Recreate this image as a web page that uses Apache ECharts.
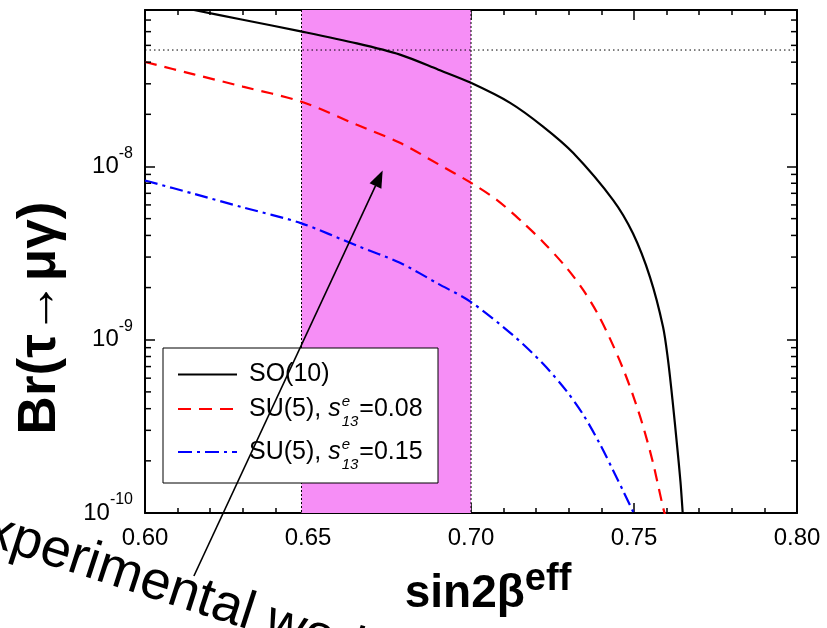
<!DOCTYPE html>
<html><head><meta charset="utf-8">
<script src="https://cdn.jsdelivr.net/npm/echarts@6/dist/echarts.min.js"></script>
<style>html,body{margin:0;padding:0;background:#fff}#c{width:827px;height:628px}</style>
</head><body><div id="c"></div>
<script>
const FONT = '"Liberation Sans", Arial, Helvetica, sans-serif';

// ---- data ----
const xRange = [0.60, 0.80];
const yRange = [1e-10, 8e-8];
const xTickInterval = 0.05;
const seriesNames = ['SO(10)', 'SU(5), s13=0.08', 'SU(5), s13=0.15'];

const so10X = [0.600, 0.615, 0.630, 0.6478, 0.665, 0.6782, 0.690, 0.6998, 0.712, 0.7221, 0.7313, 0.7436, 0.7497, 0.7549, 0.7589, 0.76043, 0.76181, 0.76319, 0.76426, 0.76494, 0.76518];
const so10Y = [9.1e-8, 8.0e-8, 7.03e-8, 6.02e-8, 5.13e-8, 4.42e-8, 3.62e-8, 3.05e-8, 2.33e-8, 1.70e-8, 1.20e-8, 6.4e-9, 4.1e-9, 2.3e-9, 1.19e-9, 7.65e-10, 4.49e-10, 2.47e-10, 1.51e-10, 1.0e-10, 8.5e-11];

const su5aX = [0.600, 0.615, 0.630, 0.6478, 0.665, 0.6782, 0.690, 0.6998, 0.7079, 0.7160, 0.7221, 0.7294, 0.7344, 0.7387, 0.7426, 0.7466, 0.7497, 0.7528, 0.7558, 0.7589, 0.7600];
const su5aY = [4.01e-8, 3.40e-8, 2.89e-8, 2.37e-8, 1.74e-8, 1.37e-8, 1.03e-8, 8.09e-9, 6.42e-9, 4.73e-9, 3.67e-9, 2.59e-9, 1.94e-9, 1.43e-9, 1.018e-9, 6.84e-10, 4.78e-10, 3.16e-10, 1.96e-10, 1.08e-10, 9.1e-11];

const su5bX = [0.600, 0.615, 0.630, 0.6478, 0.665, 0.6782, 0.690, 0.6998, 0.7129, 0.7221, 0.7294, 0.7344, 0.7396, 0.7436, 0.7466, 0.7497, 0.7505];
const su5bY = [8.30e-9, 6.95e-9, 5.81e-9, 4.71e-9, 3.49e-9, 2.78e-9, 2.10e-9, 1.66e-9, 1.061e-9, 7.26e-10, 5.03e-10, 3.70e-10, 2.49e-10, 1.76e-10, 1.35e-10, 1.02e-10, 9.5e-11];

const bandX = [0.648, 0.700];       // experimental sin2beta band
const expBound = 4.7e-8;            // experimental upper bound (dotted line)
const arrowTip = [0.6729, 9.48e-9];
const arrowTail = [0.6150, 4.33e-11];
const minorY = [2e-10,3e-10,4e-10,5e-10,6e-10,7e-10,8e-10,9e-10,
                2e-9,3e-9,4e-9,5e-9,6e-9,7e-9,8e-9,9e-9,
                2e-8,3e-8,4e-8,5e-8,6e-8,7e-8];

function pairs(xs, ys){ return xs.map((x,i)=>[x, ys[i]]); }

const chart = echarts.init(document.getElementById('c'), null, {renderer:'canvas'});

const axisLineStyle = {color:'#000', width:2};
function xAxisCfg(pos, showLabel){
  return {
    type:'value', position:pos, min:xRange[0], max:xRange[1], interval:xTickInterval, gridIndex:0,
    axisLine:{show:true, onZero:false, lineStyle:axisLineStyle},
    axisTick:{show:true, inside:true, length:10, lineStyle:{color:'#000', width:1.5}},
    minorTick:{show:true, splitNumber:5, length:5, lineStyle:{color:'#000', width:1.5}},
    splitLine:{show:false}, minorSplitLine:{show:false},
    axisLabel:{show:showLabel, margin:13, color:'#000', fontSize:24, fontFamily:FONT,
      formatter: v => v.toFixed(2)}
  };
}
function yAxisCfg(pos, showLabel){
  return {
    type:'log', logBase:10, position:pos, min:yRange[0], max:yRange[1], gridIndex:0,
    axisLine:{show:true, onZero:false, lineStyle:axisLineStyle},
    axisTick:{show:true, inside:true, length:10, lineStyle:{color:'#000', width:1.5}},
    splitLine:{show:false},
    axisLabel:{show:showLabel, margin:12, showMaxLabel:false,
      formatter: v => {
        const e = Math.round(Math.log10(v));
        if (Math.abs(v/Math.pow(10,e) - 1) > 1e-6) return '';
        return '{b|10}{s|' + e + '}';
      },
      rich:{
        b:{fontSize:24, fontFamily:FONT, color:'#000', lineHeight:24, verticalAlign:'bottom'},
        s:{fontSize:16, fontFamily:FONT, color:'#000', lineHeight:16, verticalAlign:'bottom', padding:[0,0,17,0]}
      }
    }
  };
}

const lineCommon = {symbol:'none', smooth:0.3, clip:true, z:3};

const option = {
  animation:false,
  backgroundColor:'#fff',
  grid:{left:145, right:30, top:10, bottom:115, containLabel:false},
  xAxis:[xAxisCfg('bottom', true), xAxisCfg('top', false)],
  yAxis:[yAxisCfg('left', true), yAxisCfg('right', false)],
  series:[
    { type:'custom', name:'band', xAxisIndex:0, yAxisIndex:0, z:1, silent:true,
      data:[[bandX[0], yRange[0], bandX[1], yRange[1]]], encode:{x:[0,2], y:[1,3]},
      renderItem:function(params, api){
        const p0 = api.coord([api.value(0), api.value(3)]);
        const p1 = api.coord([api.value(2), api.value(1)]);
        const dash = {stroke:'#000', lineWidth:1, lineDash:[2,2]};
        return {type:'group', children:[
          {type:'rect', shape:{x:p0[0], y:p0[1], width:p1[0]-p0[0], height:p1[1]-p0[1]},
           style:{fill:'#f68ef6'}},
          {type:'line', shape:{x1:p0[0], y1:p0[1], x2:p0[0], y2:p1[1]}, style:dash},
          {type:'line', shape:{x1:p1[0], y1:p0[1], x2:p1[0], y2:p1[1]}, style:dash}
        ]};
      }
    },
    { type:'custom', name:'bound', xAxisIndex:0, yAxisIndex:0, z:2, silent:true,
      data:[[xRange[0], expBound, xRange[1]]], encode:{x:[0,2], y:1},
      renderItem:function(params, api){
        const a = api.coord([api.value(0), api.value(1)]);
        const b = api.coord([api.value(2), api.value(1)]);
        return {type:'line', shape:{x1:a[0], y1:a[1], x2:b[0], y2:b[1]},
          style:{stroke:'#000', lineWidth:1, lineDash:[1.5,3]}};
      }
    },
    Object.assign({ type:'line', name:seriesNames[0], data:pairs(so10X, so10Y),
      lineStyle:{color:'#000', width:2.2, type:'solid'} }, lineCommon),
    Object.assign({ type:'line', name:seriesNames[1], data:pairs(su5aX, su5aY),
      lineStyle:{color:'#ff0000', width:2.2, type:[12,8]} }, lineCommon),
    Object.assign({ type:'line', name:seriesNames[2], data:pairs(su5bX, su5bY),
      lineStyle:{color:'#0000ff', width:2.2, type:[13,5,3,5]} }, lineCommon),
    { type:'custom', name:'minorTicks', xAxisIndex:0, yAxisIndex:0, z:4, silent:true,
      data: minorY.map(v => [xRange[0], v]), encode:{x:0, y:1},
      renderItem:function(params, api){
        const v = api.value(1);
        const pL = api.coord([xRange[0], v]);
        const pR = api.coord([xRange[1], v]);
        const st = {stroke:'#000', lineWidth:1.5};
        return {type:'group', children:[
          {type:'line', shape:{x1:pL[0], y1:pL[1], x2:pL[0]+6, y2:pL[1]}, style:st},
          {type:'line', shape:{x1:pR[0]-6, y1:pR[1], x2:pR[0], y2:pR[1]}, style:st}
        ]};
      }
    }
  ]
};
chart.setOption(option);

// ---- graphic overlays: legend, titles, annotation ----
const mctx = document.createElement('canvas').getContext('2d');
function tw(text, font){ mctx.font = font; return mctx.measureText(text).width; }
const F24 = '25px ' + FONT, FI24 = 'italic 25px ' + FONT, FI14 = 'italic 15px ' + FONT;

const lgX = 163, lgY = 348, lgW = 275, lgH = 135;
const rowY = [374.5, 409, 452];
const lineX0 = 178, lineX1 = 237, textX = 249;
const els = [];
els.push({type:'rect', shape:{x:lgX, y:lgY, width:lgW, height:lgH}, style:{fill:'#fff', stroke:'#000', lineWidth:1}, z:10});
els.push({type:'line', shape:{x1:lineX0, y1:rowY[0], x2:lineX1, y2:rowY[0]}, style:{stroke:'#000', lineWidth:2.2}, z:11});
els.push({type:'line', shape:{x1:lineX0, y1:rowY[1], x2:lineX1, y2:rowY[1]}, style:{stroke:'#ff0000', lineWidth:2.2, lineDash:[13,8]}, z:11});
els.push({type:'line', shape:{x1:lineX0, y1:rowY[2], x2:lineX1, y2:rowY[2]}, style:{stroke:'#0000ff', lineWidth:2.2, lineDash:[14,5,3,5]}, z:11});
function txt(text, x, y, font, align, rot){
  return {type:'text', x:x, y:y, rotation:rot||0, z:11,
    style:{text:text, font:font, fill:'#000', align:align||'left', verticalAlign:'middle',
           textAlign:align||'left', textVerticalAlign:'middle'}};
}
els.push(txt('SO(10)', textX, rowY[0], F24));
const labelsVal = ['0.08', '0.15'];
[1,2].forEach((r, k) => {
  const w1 = tw('SU(5), ', F24), w2 = tw('s', FI24);
  const xs = textX + w1 + w2 + 1;
  els.push(txt('SU(5), ', textX, rowY[r], F24));
  els.push(txt('s', textX + w1, rowY[r], FI24));
  els.push(txt('e', xs, rowY[r] - 7, FI14));
  els.push(txt('13', xs, rowY[r] + 13, FI14));
  els.push(txt('=' + labelsVal[k], xs + tw('13', FI14) + 1, rowY[r], F24));
});

// axis titles
els.push({type:'text', x:40, y:318, rotation:Math.PI/2, z:11,
  style:{text:'Br(τ→μγ)', font:'bold 53px ' + FONT, fill:'#000', align:'center', verticalAlign:'middle', textAlign:'center', textVerticalAlign:'middle'}});
els.push({type:'text', x:488, y:594, z:11,
  style:{text:'{b|sin2β}{s|eff}', fill:'#000', align:'center', verticalAlign:'middle', textAlign:'center', textVerticalAlign:'middle',
    rich:{
      b:{fontSize:46, fontWeight:'bold', fontFamily:FONT, lineHeight:46, verticalAlign:'bottom', fill:'#000'},
      s:{fontSize:38, fontWeight:'bold', fontFamily:FONT, lineHeight:38, verticalAlign:'bottom', padding:[0,0,18,0], fill:'#000'}
    }}});

// annotation arrow
const tip = chart.convertToPixel({xAxisIndex:0, yAxisIndex:0}, arrowTip);
const tail = chart.convertToPixel({xAxisIndex:0, yAxisIndex:0}, arrowTail);
const dx = tip[0]-tail[0], dy = tip[1]-tail[1], L = Math.hypot(dx, dy);
const ux = dx/L, uy = dy/L, hl = 17, hw = 6.5;
const bx = tip[0] - ux*hl, by = tip[1] - uy*hl;
els.push({type:'line', shape:{x1:tail[0], y1:tail[1], x2:bx, y2:by}, style:{stroke:'#000', lineWidth:1.6}, z:12});
els.push({type:'polygon', shape:{points:[[tip[0],tip[1]],[bx - uy*hw, by + ux*hw],[bx + uy*hw, by - ux*hw]]}, style:{fill:'#000'}, z:12});
els.push(txt('Experimental world average', -47, 518, '54px ' + FONT, 'left', -18*Math.PI/180));

chart.setOption({graphic:{elements:els}});
</script>
</body></html>
